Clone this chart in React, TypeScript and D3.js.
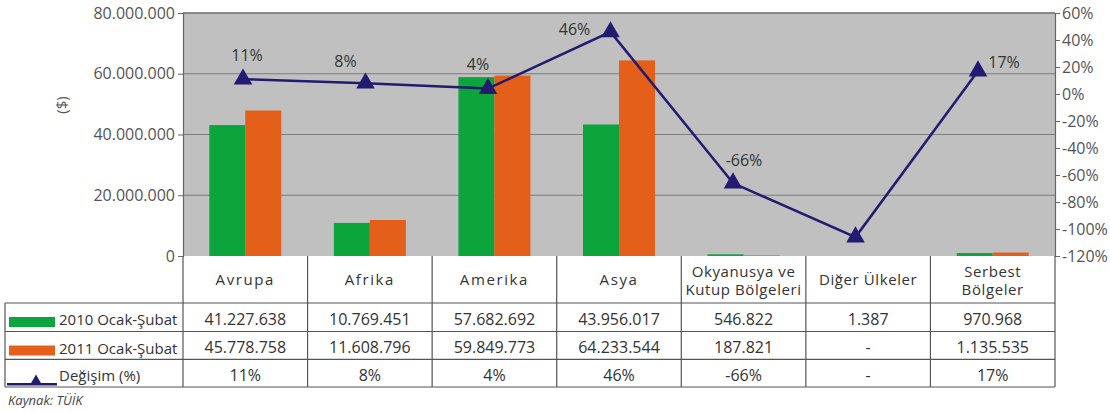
import React, { useEffect, useRef } from 'react';
import * as d3 from 'd3';

// categories (header row of the table)
const categories = ['Avrupa', 'Afrika', 'Amerika', 'Asya', 'Okyanusya', 'Diğer', 'Serbest'];
const headerLines = [
  ['Avrupa'],
  ['Afrika'],
  ['Amerika'],
  ['Asya'],
  ['Okyanusya ve', 'Kutup Bölgeleri'],
  ['Diğer Ülkeler'],
  ['Serbest', 'Bölgeler'],
];

// bar heights (millions $)
const bars2010 = [43.1, 10.9, 58.9, 43.3, 0.55, 0.0014, 0.97];
const bars2011 = [47.9, 11.85, 59.4, 64.4, 0.19, 0, 1.14];
// change line (%)
const change = [11, 8, 4, 46, -66, -106, 17];
const changeLabels = ['11%', '8%', '4%', '46%', '-66%', '', '17%'];

// table rows
const row2010 = ['41.227.638', '10.769.451', '57.682.692', '43.956.017', '546.822', '1.387', '970.968'];
const row2011 = ['45.778.758', '11.608.796', '59.849.773', '64.233.544', '187.821', '-', '1.135.535'];
const rowChange = ['11%', '8%', '4%', '46%', '-66%', '-', '17%'];
const seriesNames = ['2010 Ocak-Şubat', '2011 Ocak-Şubat', 'Değişim (%)'];

const leftTicks = [0, 20, 40, 60, 80];
const rightTicks = [60, 40, 20, 0, -20, -40, -60, -80, -100, -120];

const GREEN = '#0ba53c';
const ORANGE = '#e4601a';
const NAVY = '#231b70';
const FONT = "'Open Sans', 'Noto Sans', sans-serif";

const App = () => {
  const svgRef = useRef<SVGSVGElement>(null);

  useEffect(() => {
    const svg = d3.select(svgRef.current);
    svg.selectAll('*').remove();

    const left = 183;
    const right = 1055;
    const top = 13;
    const bottom = 256;
    const width = right - left;
    const height = bottom - top;

    const g = svg.append('g').attr('transform', `translate(${left}, ${top})`);

    const x = d3.scaleBand().domain(categories).range([0, width]).padding(0);
    const xs = d3
      .scaleBand()
      .domain(['2010', '2011'])
      .range([0, x.bandwidth()])
      .paddingInner(0)
      .paddingOuter(0.73);
    // the line sits on a slightly narrower grid than the columns
    const xLine = d3.scalePoint().domain(categories).range([60, width - 77]);

    const y = d3.scaleLinear().domain([0, 80]).range([height, 0]);
    const yPct = d3.scaleLinear().domain([-120, 60]).range([height, 0]);

    const fmt = d3.formatLocale({ decimal: ',', thousands: '.', grouping: [3], currency: ['', ''] }).format(',');

    // background
    g.append('rect').attr('width', width).attr('height', height).attr('fill', '#c0c0c0');

    // gridlines
    g.selectAll('.grid')
      .data(leftTicks.filter((d) => d > 0))
      .enter()
      .append('line')
      .attr('x1', 0)
      .attr('x2', width)
      .attr('y1', (d) => y(d))
      .attr('y2', (d) => y(d))
      .attr('stroke', '#7d7d7d')
      .attr('stroke-width', 1.2);

    // bars
    const series = [
      { key: '2010', values: bars2010, color: GREEN },
      { key: '2011', values: bars2011, color: ORANGE },
    ];
    series.forEach((s) => {
      g.selectAll(`.bar-${s.key}`)
        .data(categories)
        .enter()
        .append('rect')
        .attr('x', (d) => (x(d) as number) + (xs(s.key) as number))
        .attr('y', (d, i) => y(s.values[i]))
        .attr('width', xs.bandwidth())
        .attr('height', (d, i) => height - y(s.values[i]))
        .attr('fill', s.color);
    });

    // left axis
    const yAxis = g
      .append('g')
      .call(
        d3
          .axisLeft(y)
          .tickValues(leftTicks)
          .tickSize(5)
          .tickFormat((d) => fmt((d as number) * 1e6))
      );
    yAxis.select('.domain').attr('stroke', '#666').attr('stroke-width', 1.2);
    yAxis.selectAll('line').attr('stroke', '#666');
    yAxis
      .selectAll('text')
      .attr('font-family', FONT)
      .attr('font-size', 16)
      .attr('fill', '#555')
      .attr('x', -8);

    // right axis
    const yAxisR = g
      .append('g')
      .attr('transform', `translate(${width}, 0)`)
      .call(
        d3
          .axisRight(yPct)
          .tickValues(rightTicks)
          .tickSize(5)
          .tickFormat((d) => `${d}%`)
      );
    yAxisR.select('.domain').attr('stroke', '#666').attr('stroke-width', 1.2);
    yAxisR.selectAll('line').attr('stroke', '#666');
    yAxisR
      .selectAll('text')
      .attr('font-family', FONT)
      .attr('font-size', 16)
      .attr('fill', '#555')
      .attr('x', 7);

    // top border
    g.append('line').attr('x1', 0).attr('x2', width).attr('y1', 0).attr('y2', 0).attr('stroke', '#666').attr('stroke-width', 1.2);

    // y label
    svg
      .append('text')
      .attr('transform', 'translate(67, 105) rotate(-90)')
      .attr('text-anchor', 'middle')
      .attr('font-family', FONT)
      .attr('font-size', 15)
      .attr('fill', '#555')
      .text('($)');

    // change line
    const line = d3
      .line<number>()
      .x((d, i) => xLine(categories[i]) as number)
      .y((d) => yPct(d));
    g.append('path')
      .datum(change)
      .attr('d', line)
      .attr('fill', 'none')
      .attr('stroke', NAVY)
      .attr('stroke-width', 2.5);

    const tri = d3.symbol().type(d3.symbolTriangle).size(150);
    g.selectAll('.marker')
      .data(change)
      .enter()
      .append('path')
      .attr('d', tri)
      .attr('transform', (d, i) => `translate(${xLine(categories[i])}, ${yPct(d)})`)
      .attr('fill', NAVY);

    // data labels
    const labelOffsets = [
      [4, -18],
      [-20, -16],
      [-10, -19],
      [-36, 3],
      [11, -17],
      [0, 0],
      [26, -3],
    ];
    g.selectAll('.dlabel')
      .data(change)
      .enter()
      .append('text')
      .attr('x', (d, i) => (xLine(categories[i]) as number) + labelOffsets[i][0])
      .attr('y', (d, i) => yPct(d) + labelOffsets[i][1])
      .attr('text-anchor', 'middle')
      .attr('font-family', FONT)
      .attr('font-size', 16)
      .attr('fill', '#333')
      .text((d, i) => changeLabels[i]);

    // data table
    const t = svg.append('g').attr('transform', `translate(${left}, 0)`);
    const headerTop = bottom;
    const rowTops = [303, 331.5, 359.3];
    const tableBottom = 387;
    const border = '#555';

    // header cells
    t.selectAll('.vline')
      .data(categories)
      .enter()
      .append('line')
      .attr('x1', (d) => x(d) as number)
      .attr('x2', (d) => x(d) as number)
      .attr('y1', headerTop)
      .attr('y2', tableBottom)
      .attr('stroke', border)
      .attr('stroke-width', 1.2);
    t.append('line')
      .attr('x1', width)
      .attr('x2', width)
      .attr('y1', headerTop)
      .attr('y2', tableBottom)
      .attr('stroke', border)
      .attr('stroke-width', 1.2);

    // horizontal lines
    [...rowTops, tableBottom].forEach((yy) => {
      svg
        .append('line')
        .attr('x1', 5)
        .attr('x2', right)
        .attr('y1', yy)
        .attr('y2', yy)
        .attr('stroke', border)
        .attr('stroke-width', 1.2);
    });
    svg
      .append('line')
      .attr('x1', 5)
      .attr('x2', 5)
      .attr('y1', rowTops[0])
      .attr('y2', tableBottom)
      .attr('stroke', border)
      .attr('stroke-width', 1.2);

    // header labels
    headerLines.forEach((lines, i) => {
      const cx = (x(categories[i]) as number) + x.bandwidth() / 2;
      const baselines = lines.length === 1 ? [285] : [277, 295];
      lines.forEach((txt, j) => {
        t.append('text')
          .attr('x', cx)
          .attr('y', baselines[j])
          .attr('text-anchor', 'middle')
          .attr('font-family', FONT)
          .attr('font-size', 15)
          .attr('letter-spacing', lines.length === 1 && txt !== 'Diğer Ülkeler' ? 1.6 : 0.6)
          .attr('fill', '#333')
          .text(txt);
      });
    });

    // value rows
    const rows = [row2010, row2011, rowChange];
    rows.forEach((row, r) => {
      row.forEach((v, i) => {
        t.append('text')
          .attr('x', (x(categories[i]) as number) + x.bandwidth() / 2)
          .attr('y', rowTops[r] + 21.5)
          .attr('text-anchor', 'middle')
          .attr('font-family', FONT)
          .attr('font-size', 16)
          .attr('fill', '#333')
          .text(v);
      });
    });

    // legend keys
    svg.append('rect').attr('x', 9).attr('y', rowTops[0] + 14).attr('width', 46).attr('height', 10).attr('fill', GREEN);
    svg.append('rect').attr('x', 9).attr('y', rowTops[1] + 14).attr('width', 46).attr('height', 10).attr('fill', ORANGE);
    svg
      .append('line')
      .attr('x1', 7)
      .attr('x2', 57)
      .attr('y1', rowTops[2] + 25)
      .attr('y2', rowTops[2] + 25)
      .attr('stroke', NAVY)
      .attr('stroke-width', 2.5);
    svg
      .append('path')
      .attr('d', d3.symbol().type(d3.symbolTriangle).size(60))
      .attr('transform', `translate(36, ${rowTops[2] + 22})`)
      .attr('fill', NAVY);
    seriesNames.forEach((name, r) => {
      svg
        .append('text')
        .attr('x', 59)
        .attr('y', rowTops[r] + 22)
        .attr('font-family', FONT)
        .attr('font-size', 15)
        .attr('fill', '#333')
        .text(name);
    });

    // source
    svg
      .append('text')
      .attr('x', 8)
      .attr('y', 405)
      .attr('font-family', FONT)
      .attr('font-size', 13)
      .attr('font-style', 'italic')
      .attr('fill', '#444')
      .text('Kaynak: TÜİK');
  }, []);

  return (
    <div className="chart">
      <svg
        ref={svgRef}
        width={1110}
        height={411}
        style={{ position: 'absolute', left: 0, top: 0, background: '#fff' }}
      ></svg>
    </div>
  );
};

export default App;
